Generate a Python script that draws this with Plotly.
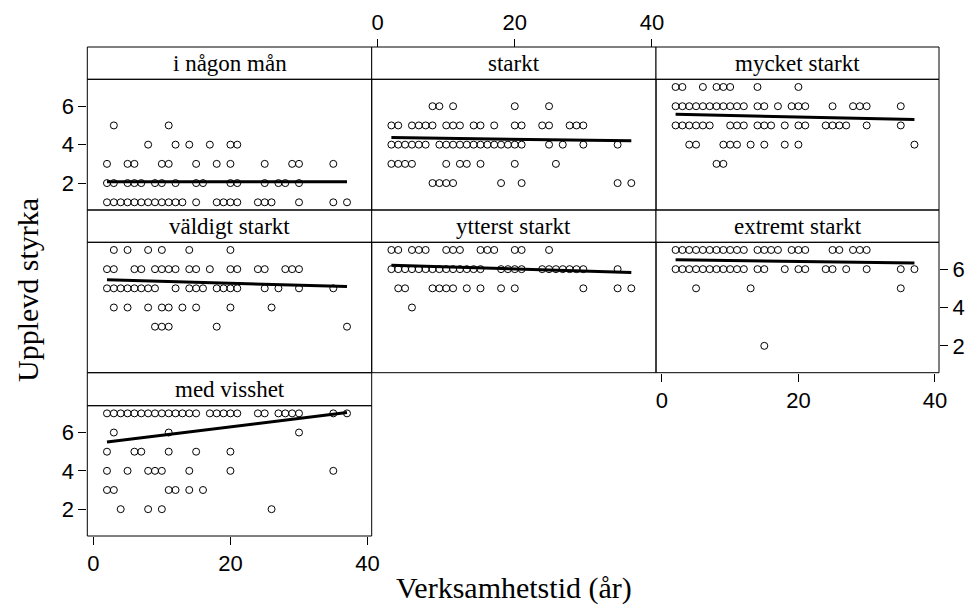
import plotly.graph_objects as go

# ---------------- data ----------------
panel_titles = ["i någon mån", "starkt", "mycket starkt",
                "väldigt starkt", "ytterst starkt", "extremt starkt",
                "med visshet"]

# years per rating level, one dict per panel
nagon = {5: [3, 11],
         4: [8, 12, 14, 17, 20, 21],
         3: [2, 5, 6, 10, 11, 15, 18, 20, 25, 29, 30, 35],
         2: [2, 3, 5, 6, 7, 9, 10, 12, 15, 16, 20, 21, 25, 27, 28, 30],
         1: [2, 3, 4, 5, 6, 7, 8, 9, 10, 11, 12, 13, 15, 18, 19, 20, 21, 24, 25, 26, 30, 35, 37]}
starkt = {6: [8, 9, 11, 20, 25],
          5: [2, 3, 5, 6, 7, 8, 10, 11, 12, 14, 15, 17, 20, 21, 24, 25, 28, 29, 30],
          4: [2, 3, 4, 5, 6, 7, 9, 10, 11, 12, 13, 14, 15, 16, 17, 18, 19, 20, 21, 25, 27, 30, 35],
          3: [2, 3, 4, 5, 10, 12, 13, 15, 20, 26],
          2: [8, 9, 10, 11, 18, 21, 35, 37]}
mycket = {7: [2, 3, 6, 8, 9, 10, 14, 20],
          6: [2, 3, 4, 5, 6, 7, 8, 9, 10, 11, 12, 14, 15, 17, 19, 20, 21, 25, 28, 29, 30, 35],
          5: [2, 3, 4, 5, 6, 7, 10, 11, 12, 14, 15, 16, 18, 20, 21, 24, 25, 26, 27, 30, 35],
          4: [4, 5, 9, 10, 11, 13, 15, 18, 20, 37],
          3: [8, 9]}
valdigt = {7: [3, 5, 8, 10, 14, 20],
           6: [2, 3, 6, 7, 9, 10, 11, 12, 14, 15, 17, 20, 21, 24, 25, 28, 29, 30],
           5: [2, 3, 4, 5, 6, 7, 8, 9, 12, 14, 15, 16, 18, 19, 20, 21, 25, 27, 30, 35],
           4: [3, 5, 8, 10, 11, 13, 15, 20, 26],
           3: [9, 10, 11, 18, 37]}
ytterst = {7: [2, 3, 5, 6, 7, 10, 11, 12, 15, 16, 17, 20, 21, 25],
           6: [2, 3, 4, 5, 6, 7, 8, 9, 10, 11, 12, 13, 14, 15, 18, 19, 20, 21,
               24, 25, 26, 27, 28, 29, 30, 35],
           5: [3, 4, 8, 9, 10, 11, 13, 15, 18, 20, 30, 35, 37],
           4: [5]}
extremt = {7: [2, 3, 4, 5, 6, 7, 8, 9, 10, 11, 12, 14, 15, 16, 17, 19, 20, 21,
               25, 26, 28, 29, 30],
           6: [2, 3, 4, 5, 6, 7, 8, 9, 10, 11, 12, 14, 15, 18, 20, 21, 24, 25, 27, 30, 35, 37],
           5: [5, 13, 35],
           2: [15]}
visshet = {7: [2, 3, 4, 5, 6, 7, 8, 9, 10, 11, 12, 13, 14, 15, 17, 18, 19, 20, 21,
               24, 25, 27, 28, 29, 30, 35, 37],
           6: [3, 11, 30],
           5: [2, 6, 7, 11, 15, 20],
           4: [2, 5, 8, 9, 10, 14, 20, 35],
           3: [2, 3, 11, 12, 14, 16],
           2: [4, 8, 10, 26]}

panel_data = [nagon, starkt, mycket, valdigt, ytterst, extremt, visshet]

# fitted line: rating at x = fit_x[0] and x = fit_x[1]
fit_x = [2, 37]
fit_start = [2.07, 4.37, 5.58, 5.45, 6.20, 6.49, 5.50]
fit_end = [2.07, 4.20, 5.31, 5.09, 5.83, 6.32, 7.05]

x_ticks = [0, 20, 40]
y_ticks = [2, 4, 6]

# ---------------- layout geometry ----------------
W, H = 976, 614
ML, MR, MT, MB = 87, 37, 47, 78
PW, PH = W - ML - MR, H - MT - MB


def px(x):
    return (x - ML) / PW


def py(y):
    return (MT + PH - y) / PH


col_edges = [(87.3, 371.7), (371.7, 656.0), (656.0, 939.0)]
# (strip top, strip bottom/plot top, plot bottom)
row_edges = [(47.0, 79.3, 210.0), (210.0, 242.3, 372.7), (372.7, 405.7, 536.0)]
positions = [(0, 0), (0, 1), (0, 2), (1, 0), (1, 1), (1, 2), (2, 0)]

tick_font = dict(family="Liberation Sans, Arial, sans-serif", size=22, color="black")
serif = "Liberation Serif, Times New Roman, serif"

fig = go.Figure()
shapes = []
annotations = []
layout = {}

for i, (title, data) in enumerate(zip(panel_titles, panel_data)):
    r, c = positions[i]
    n = i + 1
    xs, ys = [], []
    for level, years in data.items():
        xs += years
        ys += [level] * len(years)
    xa = "x" if n == 1 else f"x{n}"
    ya = "y" if n == 1 else f"y{n}"
    fig.add_trace(go.Scatter(
        x=xs, y=ys, mode="markers", xaxis=xa, yaxis=ya,
        marker=dict(symbol="circle-open", size=7, color="black",
                    line=dict(width=1, color="black")),
        showlegend=False, hoverinfo="x+y"))
    fig.add_trace(go.Scatter(
        x=fit_x, y=[fit_start[i], fit_end[i]], mode="lines", xaxis=xa, yaxis=ya,
        line=dict(color="black", width=3), showlegend=False))

    x0, x1 = col_edges[c]
    st, sb, pb = row_edges[r]
    xd = [px(x0), px(x1)]
    yd = [py(pb), py(sb)]

    xaxis = dict(domain=xd, range=[-0.87, 40.6], anchor=ya, showgrid=False,
                 zeroline=False, showline=False, tickvals=x_ticks, ticks="",
                 showticklabels=False, automargin=False, fixedrange=True)
    yaxis = dict(domain=yd, range=[0.6, 7.4], anchor=xa, showgrid=False,
                 zeroline=False, showline=False, tickvals=y_ticks, ticks="",
                 showticklabels=False, automargin=False, fixedrange=True)

    tick_style = dict(ticks="outside", ticklen=8, tickwidth=1, tickcolor="black",
                      showticklabels=True, tickfont=tick_font)
    if n in (1, 7):
        yaxis.update(tick_style, side="left")
    if n == 6:
        yaxis.update(tick_style, side="right")
    if n in (6, 7):
        xaxis.update(tick_style, side="bottom")
    if n == 2:
        xaxis.update(tick_style, side="top", anchor="free", position=py(st))

    layout["xaxis" if n == 1 else f"xaxis{n}"] = xaxis
    layout["yaxis" if n == 1 else f"yaxis{n}"] = yaxis

    # strip and plot frames
    shapes.append(dict(type="rect", xref="paper", yref="paper",
                       x0=xd[0], x1=xd[1], y0=py(sb), y1=py(st),
                       line=dict(color="black", width=1), fillcolor="white",
                       layer="below"))
    shapes.append(dict(type="rect", xref="paper", yref="paper",
                       x0=xd[0], x1=xd[1], y0=py(pb), y1=py(sb),
                       line=dict(color="black", width=1), layer="above"))
    annotations.append(dict(text=title, xref="paper", yref="paper",
                            x=(xd[0] + xd[1]) / 2, y=(py(sb) + py(st)) / 2,
                            xanchor="center", yanchor="middle", showarrow=False,
                            font=dict(family=serif, size=23, color="black")))

annotations.append(dict(text="Upplevd styrka", xref="paper", yref="paper",
                        x=px(27), y=py(290), textangle=-90, showarrow=False,
                        xanchor="center", yanchor="middle",
                        font=dict(family=serif, size=30, color="black")))
annotations.append(dict(text="Verksamhetstid (år)", xref="paper", yref="paper",
                        x=px(514), y=py(588), showarrow=False,
                        xanchor="center", yanchor="middle",
                        font=dict(family=serif, size=30, color="black")))

fig.update_layout(
    width=W, height=H,
    margin=dict(l=ML, r=MR, t=MT, b=MB, pad=0),
    paper_bgcolor="white", plot_bgcolor="white",
    shapes=shapes, annotations=annotations, showlegend=False,
    **layout)

fig.write_html("out.html",
               config={"displayModeBar": False},
               post_script="document.body.style.margin='0px';"
                           "document.body.style.overflow='hidden';")
